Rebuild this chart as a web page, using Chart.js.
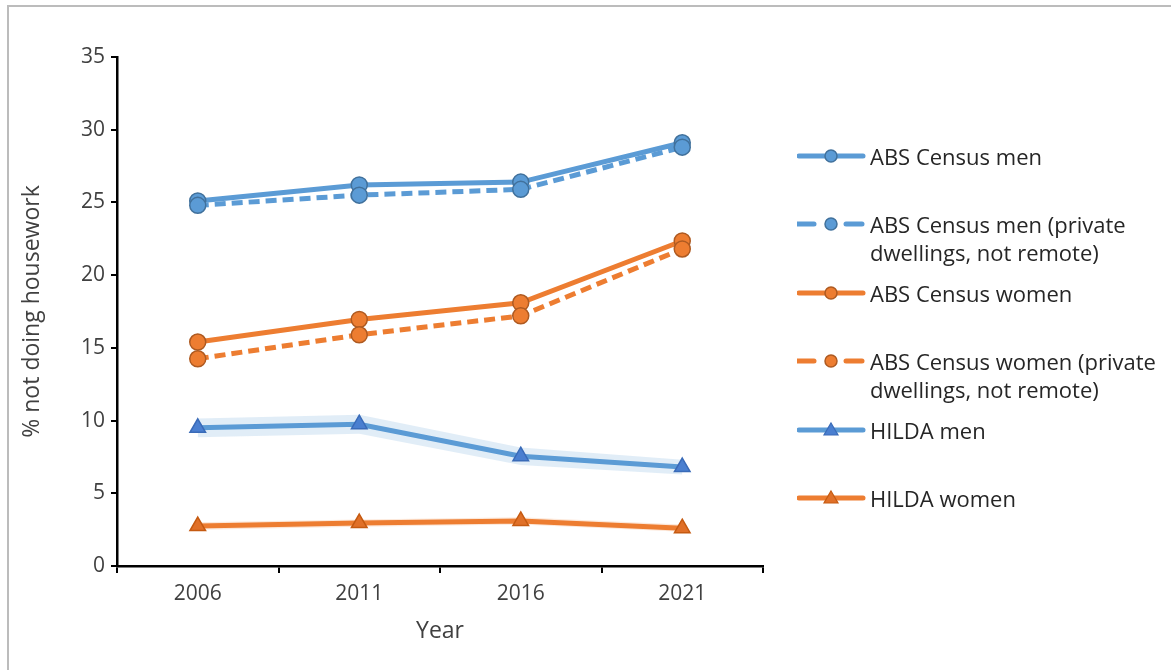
<!DOCTYPE html>
<html>
<head>
<meta charset="utf-8">
<script src="https://cdn.jsdelivr.net/npm/chart.js@4"></script>
<style>
  body { margin:0; background:#fff; }
  #wrap { position:relative; width:1171px; height:670px; overflow:hidden; font-family:"Open Sans", sans-serif; }
  #frame { position:absolute; left:7px; top:5px; width:1200px; height:700px; border-top:2px solid #bcbcbc; border-left:2px solid #bcbcbc; }
  canvas { position:absolute; left:0; top:0; }
  .lg { position:absolute; left:797px; }
  .lg svg { position:absolute; left:0; top:0; }
  .lg span { position:absolute; left:73px; top:0; white-space:nowrap; font-size:22px; line-height:28px; color:#262626; }
</style>
</head>
<body>
<div id="wrap">
  <div id="frame"></div>
  <canvas id="c" width="1171" height="670"></canvas>
  <div id="legend"></div>
</div>
<script>
// data
var years = ['2006', '2011', '2016', '2021'];
var absMen = [25.1, 26.2, 26.4, 29.1];
var absMenPriv = [24.8, 25.5, 25.9, 28.8];
var absWomen = [15.4, 16.95, 18.1, 22.35];
var absWomenPriv = [14.25, 15.9, 17.2, 21.8];
var hildaMen = [9.5, 9.75, 7.55, 6.8];
var hildaMenLo = [8.85, 9.1, 6.95, 6.3];
var hildaMenHi = [10.15, 10.4, 8.15, 7.3];
var hildaWomen = [2.75, 2.95, 3.1, 2.6];
var hildaWomenLo = [2.5, 2.7, 2.85, 2.35];
var hildaWomenHi = [3.0, 3.2, 3.35, 2.85];
var yTicks = [0, 5, 10, 15, 20, 25, 30, 35];

var blue = '#5B9BD5', blueDark = '#41719C', blueTri = '#4A7FD0';
var orange = '#ED7D31', orangeDark = '#AE5A21', orangeTri = '#E07028';
var font = '"Open Sans", sans-serif';

function band(data, col, fillTo) {
  return { data: data, borderWidth: 0, pointRadius: 0, backgroundColor: col,
           fill: fillTo, order: 10, spanGaps: true };
}
function line(data, col, mFill, mBorder, style, dash) {
  return { data: data, borderColor: col, borderWidth: 5, borderDash: dash || [],
           borderCapStyle: 'butt', backgroundColor: col, fill: false, tension: 0,
           pointStyle: style, pointRadius: style == 'circle' ? 8 : 9,
           pointBackgroundColor: mFill, pointBorderColor: mBorder, pointBorderWidth: 1.5, order: 1 };
}

var datasets = [
  band(hildaMenLo, 'rgba(0,0,0,0)', false),
  band(hildaMenHi, 'rgba(91,155,213,0.18)', '-1'),
  band(hildaWomenLo, 'rgba(0,0,0,0)', false),
  band(hildaWomenHi, 'rgba(237,125,49,0.18)', '-1'),
  line(hildaWomen, orange, orangeTri, '#C55A11', 'triangle'),
  line(hildaMen, blue, blueTri, '#3A6BB8', 'triangle'),
  line(absWomenPriv, orange, orange, orangeDark, 'circle', [11, 6]),
  line(absWomen, orange, orange, orangeDark, 'circle'),
  line(absMenPriv, blue, blue, blueDark, 'circle', [11, 6]),
  line(absMen, blue, blue, blueDark, 'circle')
];

new Chart(document.getElementById('c'), {
  type: 'line',
  data: { labels: years, datasets: datasets },
  options: {
    responsive: false, animation: false, devicePixelRatio: 1,
    layout: { padding: { left: 19, right: 408, top: 57, bottom: 25 } },
    plugins: { legend: { display: false }, tooltip: { enabled: false } },
    scales: {
      x: {
        type: 'category', offset: true,
        grid: { offset: true, drawOnChartArea: false, drawTicks: true, tickLength: 7, color: '#000', lineWidth: 2 },
        border: { display: true, color: '#000', width: 2.5 },
        ticks: { color: '#404040', font: { family: font, size: 21 }, padding: 8, maxRotation: 0 },
        title: { display: true, text: 'Year', color: '#404040', font: { family: font, size: 23 }, padding: 0 },
        afterFit: function (s) { s.height = 79; }
      },
      y: {
        min: 0, max: 35,
        afterBuildTicks: function (s) { s.ticks = yTicks.map(function (v) { return { value: v }; }); },
        grid: { drawOnChartArea: false, drawTicks: true, tickLength: 6, color: '#000', lineWidth: 2 },
        border: { display: true, color: '#000', width: 2.5 },
        ticks: { color: '#404040', font: { family: font, size: 21 }, padding: 6 },
        title: { display: true, text: '% not doing housework', color: '#404040', font: { family: font, size: 23 }, padding: 0 },
        afterFit: function (s) { s.width = 98; }
      }
    }
  }
});

// legend (html so the text stays real text)
var legendItems = [
  { y: 142, text: 'ABS Census men', col: blue, mb: blueDark, mf: blue, shape: 'circle', dash: false },
  { y: 210, text: 'ABS Census men (private<br>dwellings, not remote)', col: blue, mb: blueDark, mf: blue, shape: 'circle', dash: true },
  { y: 279, text: 'ABS Census women', col: orange, mb: orangeDark, mf: orange, shape: 'circle', dash: false },
  { y: 347, text: 'ABS Census women (private<br>dwellings, not remote)', col: orange, mb: orangeDark, mf: orange, shape: 'circle', dash: true },
  { y: 416, text: 'HILDA men', col: blue, mb: '#3A6BB8', mf: blueTri, shape: 'tri', dash: false },
  { y: 484, text: 'HILDA women', col: orange, mb: '#C55A11', mf: orangeTri, shape: 'tri', dash: false }
];
var html = '';
legendItems.forEach(function (it) {
  var ln = it.dash
    ? '<line x1="0" y1="14" x2="17" y2="14" stroke="' + it.col + '" stroke-width="5" stroke-linecap="round"/>' +
      '<line x1="49" y1="14" x2="65" y2="14" stroke="' + it.col + '" stroke-width="5" stroke-linecap="round"/>'
    : '<line x1="2" y1="14" x2="66" y2="14" stroke="' + it.col + '" stroke-width="5" stroke-linecap="round"/>';
  var mk = it.shape == 'circle'
    ? '<circle cx="34" cy="14" r="6" fill="' + it.mf + '" stroke="' + it.mb + '" stroke-width="1.5"/>'
    : '<polygon points="34,7 41,19 27,19" fill="' + it.mf + '" stroke="' + it.mb + '" stroke-width="1.2"/>';
  html += '<div class="lg" style="top:' + it.y + 'px"><svg width="70" height="28">' + ln + mk + '</svg><span>' + it.text + '</span></div>';
});
document.getElementById('legend').innerHTML = html;
</script>
</body>
</html>
